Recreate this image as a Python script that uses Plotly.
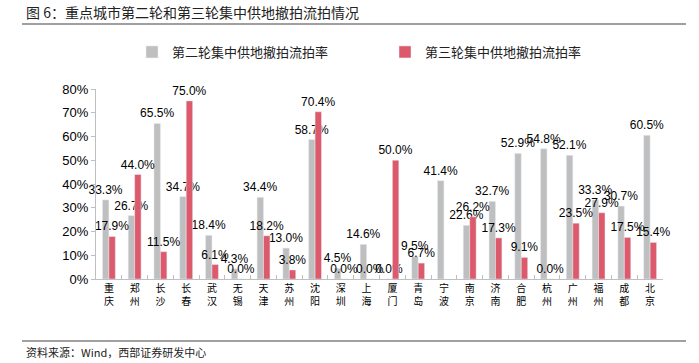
import plotly.graph_objects as go

cities = ["重<br>庆", "郑<br>州", "长<br>沙", "长<br>春", "武<br>汉", "无<br>锡", "天<br>津", "苏<br>州",
          "沈<br>阳", "深<br>圳", "上<br>海", "厦<br>门", "青<br>岛", "宁<br>波", "南<br>京", "济<br>南",
          "合<br>肥", "杭<br>州", "广<br>州", "福<br>州", "成<br>都", "北<br>京"]
round2 = [0.333, 0.267, 0.655, 0.347, 0.184, 0.043, 0.344, 0.130, 0.587, 0.045, 0.146, 0.000,
          0.095, 0.414, 0.226, 0.327, 0.529, 0.548, 0.521, 0.333, 0.307, 0.605]
round3 = [0.179, 0.440, 0.115, 0.750, 0.061, 0.000, 0.182, 0.038, 0.704, 0.000, 0.000, 0.500,
          0.067, None, 0.262, 0.173, 0.091, 0.000, 0.235, 0.279, 0.175, 0.154]
name2 = "第二轮集中供地撤拍流拍率"
name3 = "第三轮集中供地撤拍流拍率"
title_text = "图 6：重点城市第二轮和第三轮集中供地撤拍流拍情况"
source_text = "资料来源：Wind，西部证券研发中心"

W, H = 699, 363
L, R, T, B = 96, 663, 89, 279
pw, ph = R - L, B - T


def px_x(x):
    return (x - L) / pw


def px_y(y):
    return (B - y) / ph


CJK = "Noto Sans CJK SC"
NUM = "Liberation Sans, Arial"

fig = go.Figure()
fig.add_trace(go.Bar(
    x=cities, y=round2, name=name2, marker_color="#BFBFBF",
    texttemplate="%{y:.1%}", textposition="outside", cliponaxis=False,
    constraintext="none", textfont=dict(family=NUM, size=12, color="#000000"),
    legend="legend",
))
fig.add_trace(go.Bar(
    x=cities, y=round3, name=name3, marker_color="#DC5A6C",
    texttemplate="%{y:.1%}", textposition="outside", cliponaxis=False,
    constraintext="none", textfont=dict(family=NUM, size=12, color="#000000"),
    legend="legend2",
))

fig.update_layout(
    width=W, height=H,
    margin=dict(l=L, r=W - R, t=T, b=H - B, pad=0),
    paper_bgcolor="white", plot_bgcolor="white",
    barmode="group", bargap=0.5, bargroupgap=0,
    showlegend=True,
    legend=dict(x=px_x(132), y=px_y(52), xanchor="left", yanchor="middle",
                orientation="h", font=dict(family=CJK, size=13, color="#222222"),
                bgcolor="rgba(0,0,0,0)", itemwidth=30),
    legend2=dict(x=px_x(385), y=px_y(52), xanchor="left", yanchor="middle",
                 orientation="h", font=dict(family=CJK, size=13, color="#222222"),
                 bgcolor="rgba(0,0,0,0)", itemwidth=30),
    xaxis=dict(
        showline=True, linecolor="#BFBFBF", linewidth=1,
        ticks="inside", tickson="boundaries", ticklen=4, tickcolor="#BFBFBF",
        tickfont=dict(family=CJK, size=10, color="#000000"),
        showgrid=False, fixedrange=True, tickangle=0,
    ),
    yaxis=dict(
        range=[0, 0.8], dtick=0.1, tickformat=".0%",
        showline=True, linecolor="#BFBFBF", linewidth=1,
        ticks="outside", ticklen=4, tickcolor="#BFBFBF",
        tickfont=dict(family=NUM, size=13, color="#000000"),
        showgrid=False, zeroline=False, fixedrange=True,
    ),
    annotations=[
        dict(text=title_text, xref="paper", yref="paper", x=px_x(24), y=px_y(12),
             xanchor="left", yanchor="middle", showarrow=False,
             font=dict(family=CJK, size=14, color="#222222")),
        dict(text=source_text, xref="paper", yref="paper", x=px_x(24), y=px_y(352),
             xanchor="left", yanchor="middle", showarrow=False,
             font=dict(family=CJK, size=11, color="#222222")),
    ],
    shapes=[
        dict(type="line", xref="paper", yref="paper", x0=px_x(22), x1=px_x(686),
             y0=px_y(24), y1=px_y(24), line=dict(color="#808080", width=1.5)),
        dict(type="line", xref="paper", yref="paper", x0=px_x(22), x1=px_x(686),
             y0=px_y(341), y1=px_y(341), line=dict(color="#808080", width=1.5)),
    ],
)

fig.write_html(
    "out.html",
    config={"displayModeBar": False},
    post_script="document.body.style.margin='0';document.body.style.overflow='hidden';",
)
